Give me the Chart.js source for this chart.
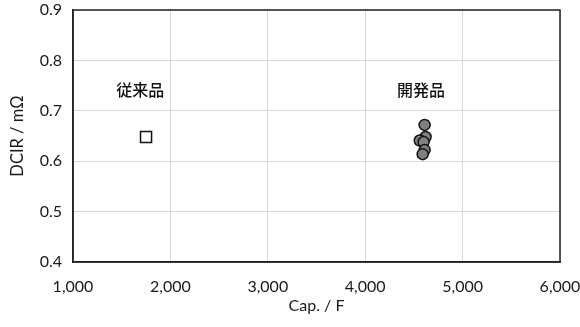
<!DOCTYPE html>
<html><head><meta charset="utf-8">
<script src="https://cdn.jsdelivr.net/npm/chart.js@4"></script>
<style>html,body{margin:0;padding:0;background:#fff}#w{width:580px;height:327px}</style>
</head><body><div id="w"><canvas id="c"></canvas></div>
<script>
const conventionalCap = [1750];
const conventionalDcir = [0.648];
const developedCap = [4610, 4620, 4560, 4600, 4610, 4590];
const developedDcir = [0.672, 0.648, 0.641, 0.638, 0.622, 0.614];
const seriesNames = ['従来品', '開発品'];
const labelCap = [1690, 4573];
const labelDcir = [0.741, 0.741];
const xTitle = 'Cap. / F';
const yTitle = 'DCIR / mΩ';

const toPts = (xs, ys) => xs.map((x, i) => ({x, y: ys[i]}));

const boxAndLabels = {
  id: 'boxAndLabels',
  afterDatasetsDraw(chart) {
    const {ctx, chartArea: a, scales} = chart;
    ctx.save();
    ctx.strokeStyle = '#222';
    ctx.lineWidth = 1.5;
    ctx.strokeRect(a.left, a.top, a.right - a.left, a.bottom - a.top);
    ctx.fillStyle = '#111';
    ctx.font = '500 16px "Noto Sans CJK JP"';
    ctx.textAlign = 'center';
    ctx.textBaseline = 'middle';
    seriesNames.forEach((n, i) => {
      ctx.fillText(n, scales.x.getPixelForValue(labelCap[i]), scales.y.getPixelForValue(labelDcir[i]));
    });
    ctx.restore();
  }
};

const zeroPad = s => { s.paddingLeft = 0; s.paddingRight = 0; s.paddingTop = 0; s.paddingBottom = 0; };

new Chart(document.getElementById('c'), {
  type: 'scatter',
  data: {
    datasets: [
      { label: seriesNames[0], data: toPts(conventionalCap, conventionalDcir), pointStyle: 'rect',
        pointRadius: 7.8, backgroundColor: '#fff', borderColor: '#111', borderWidth: 1.5 },
      { label: seriesNames[1], data: toPts(developedCap, developedDcir), pointStyle: 'circle',
        pointRadius: 5.5, backgroundColor: '#808080', borderColor: '#111', borderWidth: 1.5 }
    ]
  },
  options: {
    responsive: true, maintainAspectRatio: false, animation: false,
    layout: { padding: { top: 10, right: 20, left: 0, bottom: 0 } },
    plugins: { legend: { display: false }, tooltip: { enabled: false } },
    scales: {
      x: {
        type: 'linear', min: 1000, max: 6000,
        afterFit: s => { s.height = 65; zeroPad(s); },
        ticks: { stepSize: 1000, color: '#1a1a1a', font: { family: 'Lato', size: 16 }, padding: 15,
          callback: v => v.toLocaleString('en-US') },
        grid: { color: '#d9d9d9', drawTicks: false },
        border: { color: '#222', width: 1.5 },
        title: { display: true, text: xTitle, color: '#1a1a1a', font: { family: 'Lato', size: 16 }, padding: { top: 0, bottom: 12 } }
      },
      y: {
        type: 'linear', min: 0.4, max: 0.9,
        afterFit: s => { s.width = 73; zeroPad(s); },
        ticks: { stepSize: 0.1, color: '#1a1a1a', font: { family: 'Lato', size: 16 }, padding: 11,
          callback: v => v.toFixed(1) },
        grid: { color: '#d9d9d9', drawTicks: false },
        border: { color: '#222', width: 1.5 },
        title: { display: true, text: yTitle, color: '#1a1a1a', font: { family: 'Lato', size: 16.5 }, padding: { top: 8, bottom: 8 } }
      }
    }
  },
  plugins: [boxAndLabels]
});
</script>
</body></html>
